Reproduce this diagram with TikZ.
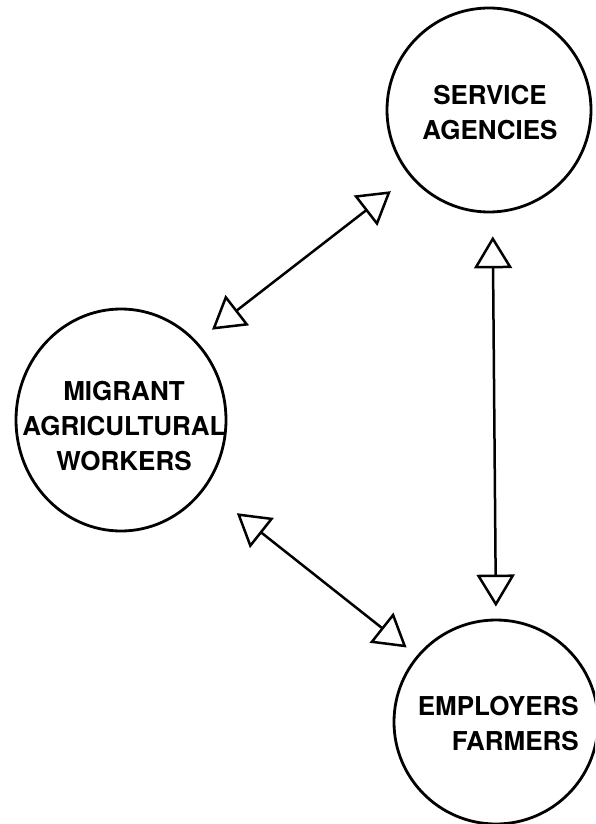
\documentclass[tikz,border=0pt]{standalone}
\usepackage{fontspec}
\setmainfont{TeX Gyre Heros}
\usetikzlibrary{arrows.meta,shapes.geometric}

\begin{document}
\begin{tikzpicture}[x=1pt,y=-1pt,
    group/.style={draw,line width=2.8pt,inner sep=0pt},
    caption/.style={font=\bfseries\fontsize{26}{35}\selectfont,inner sep=0pt},
    link/.style={line width=2.5pt,
        {Triangle[open,length=32pt,width=38pt,line width=2.5pt]}-{Triangle[open,length=32pt,width=38pt,line width=2.5pt]}}]
    \clip (0,0) rectangle (595,824);

    \node[group,circle,minimum size=204pt] (agencies) at (489,110) {};
    \node[group,ellipse,minimum width=210pt,minimum height=222pt] (workers) at (121,420) {};
    \node[group,circle,minimum size=204pt] (employers) at (496,722) {};

    \node[caption,align=center] (agencies-text) at (490,113) {SERVICE\\AGENCIES};
    \node[caption,align=center] (workers-text) at (124,426) {MIGRANT\\AGRICULTURAL\\WORKERS};
    \node[caption,align=right,anchor=east] (employers-text) at (579,724) {EMPLOYERS\\FARMERS};

    \draw[link,shorten <=19pt,shorten >=24pt] (workers.46) -- (agencies.220);
    \draw[link,shorten <=40pt,shorten >=13pt] (workers.-39) -- (employers.140);
    \draw[link,shorten <=23pt,shorten >=12pt] (agencies.-88) -- (employers.90);
\end{tikzpicture}
\end{document}
